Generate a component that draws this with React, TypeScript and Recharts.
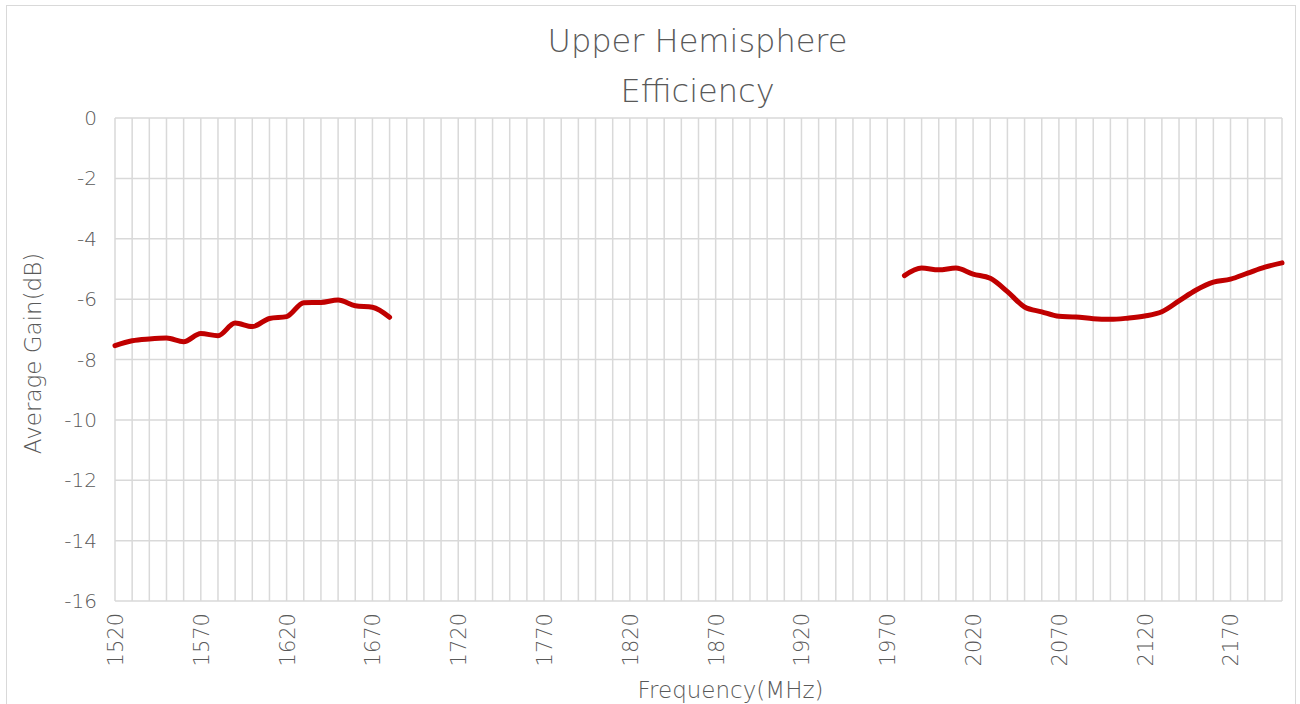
import { CartesianGrid, Label, Line, LineChart, XAxis, YAxis } from 'recharts';

const frequencies = [
  1520, 1530, 1540, 1550, 1560, 1570, 1580, 1590, 1600, 1610, 1620, 1630, 1640, 1650, 1660, 1670, 1680,
  1690, 1700, 1710, 1720, 1730, 1740, 1750, 1760, 1770, 1780, 1790, 1800, 1810, 1820, 1830, 1840, 1850,
  1860, 1870, 1880, 1890, 1900, 1910, 1920, 1930, 1940, 1950, 1960, 1970, 1980, 1990, 2000, 2010, 2020,
  2030, 2040, 2050, 2060, 2070, 2080, 2090, 2100, 2110, 2120, 2130, 2140, 2150, 2160, 2170, 2180, 2190, 2200,
];

const gain: (number | null)[] = [
  -7.54, -7.38, -7.32, -7.29, -7.41, -7.14, -7.21, -6.79, -6.91, -6.64, -6.58, -6.12, -6.11, -6.03, -6.22, -6.27, -6.6,
  null, null, null, null, null, null, null, null, null, null, null, null, null, null, null, null, null,
  null, null, null, null, null, null, null, null, null, null, null, null,
  -5.22, -4.97, -5.03, -4.97, -5.17, -5.31, -5.75, -6.26, -6.42, -6.57, -6.59, -6.65, -6.67, -6.63, -6.56,
  -6.42, -6.06, -5.7, -5.44, -5.34, -5.14, -4.94, -4.8,
];

const yTicks = [0, -2, -4, -6, -8, -10, -12, -14, -16];

const data = frequencies.map((f, i) => ({ freq: f, gain: gain[i] }));

const FONT = '"DejaVu Sans", "Noto Sans", sans-serif';
const TEXT = '#595959';

function FreqTick(props: any) {
  const { x, y, payload, index } = props;
  if (index % 5 !== 0) return null;
  return (
    <text
      x={x}
      y={y}
      transform={`rotate(-90, ${x}, ${y})`}
      textAnchor="end"
      dy="0.38em"
      fill={TEXT}
      fontSize={21}
      fontFamily={FONT}
      fontWeight={200}
    >
      {payload.value}
    </text>
  );
}

export default function App() {
  return (
    <div style={{ position: 'absolute', left: 0, top: 0, width: 1300, height: 704, background: '#fff' }}>
      <div
        style={{
          position: 'absolute',
          left: 6,
          top: 5,
          width: 1290,
          height: 710,
          border: '1px solid #d9d9d9',
          boxSizing: 'border-box',
        }}
      />
      <div
        style={{
          position: 'absolute',
          left: 0,
          top: 16,
          width: 1395,
          textAlign: 'center',
          fontFamily: FONT,
          fontWeight: 200,
          fontSize: 32,
          lineHeight: '50px',
          color: TEXT,
        }}
      >
        Upper Hemisphere
        <br />
        Efficiency
      </div>
      <LineChart width={1300} height={704} data={data} margin={{ top: 118, right: 18, left: 55, bottom: 33 }}>
        <CartesianGrid stroke="#d9d9d9" strokeWidth={1.5} />
        <XAxis
          dataKey="freq"
          interval={0}
          tick={<FreqTick />}
          tickLine={false}
          axisLine={false}
          tickSize={0}
          tickMargin={12}
          height={70}
        >
          <Label
            value="Frequency(MHz)"
            position="insideBottom"
            offset={-27}
            dx={32}
            fill={TEXT}
            fontSize={23}
            fontFamily={FONT}
            fontWeight={200}
          />
        </XAxis>
        <YAxis
          domain={[-16, 0]}
          ticks={yTicks}
          tickLine={false}
          axisLine={false}
          tickSize={0}
          tickMargin={18}
          width={60}
          tick={{ fill: TEXT, fontSize: 20, fontFamily: FONT, fontWeight: 200 }}
        >
          <Label
            value="Average Gain(dB)"
            angle={-90}
            position="insideLeft"
            offset={-22}
            dy={-6}
            style={{ textAnchor: 'middle' }}
            fill={TEXT}
            fontSize={23}
            fontFamily={FONT}
            fontWeight={200}
          />
        </YAxis>
        <Line
          type="monotone"
          dataKey="gain"
          stroke="#c00000"
          strokeWidth={5}
          strokeLinecap="round"
          dot={false}
          activeDot={false}
          connectNulls={false}
          isAnimationActive={false}
        />
      </LineChart>
    </div>
  );
}
